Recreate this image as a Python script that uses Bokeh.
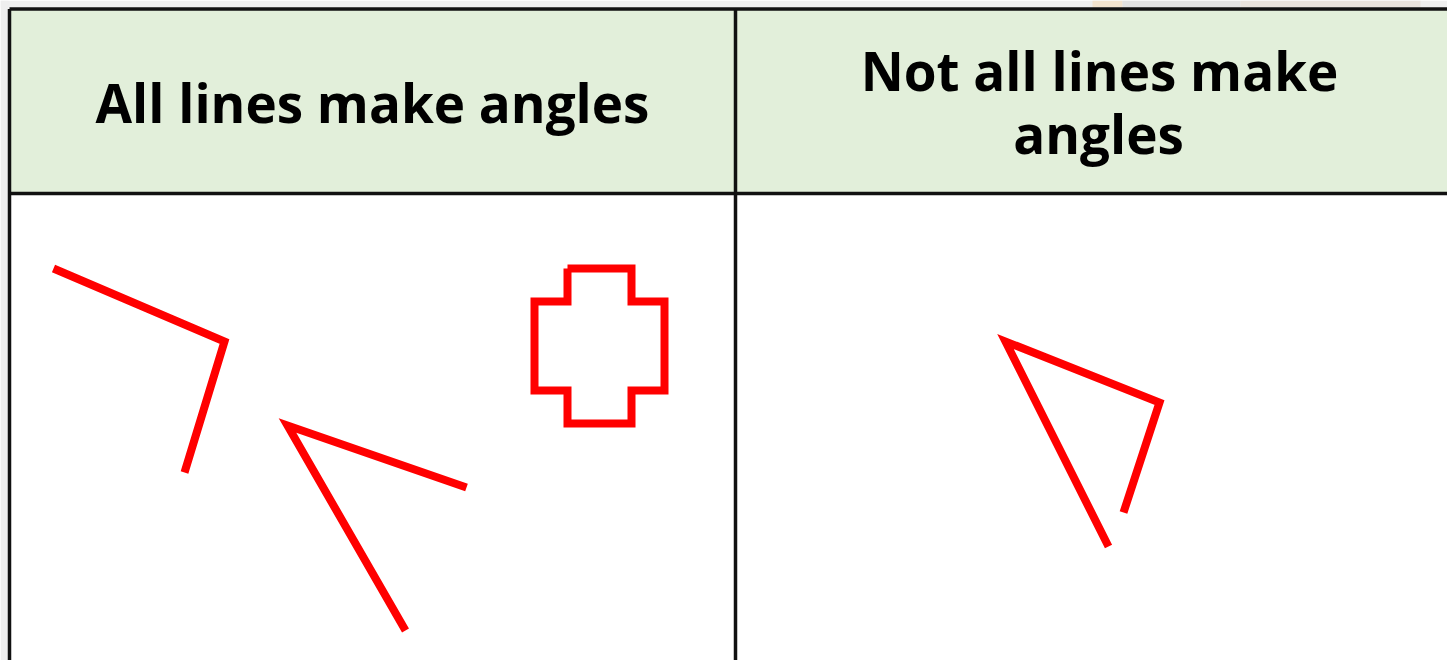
from bokeh.plotting import figure
from bokeh.models import Range1d
from bokeh.core.properties import value
from bokeh.embed import file_html
from bokeh.resources import INLINE

# ---- data (pixel coordinates) ----
headers = ["All lines make angles", "Not all lines make", "angles"]
header_x = [372, 1099, 1098]
header_y = [102, 70, 133]

# open figure 1: two lines meeting at a vertex
shape1_x = [53, 224, 184]
shape1_y = [268, 341, 472]
# open figure 2
shape2_x = [466, 287, 405]
shape2_y = [487, 425, 630]
# closed cross
cross_x = [567, 631, 631, 664, 664, 631, 631, 567, 567, 534, 534, 567, 567]
cross_y = [268, 268, 301, 301, 390, 390, 423, 423, 390, 390, 301, 301, 268]
# right column figure
shape3_x = [1108, 1005, 1159, 1123]
shape3_y = [546, 341, 402, 512]

# table grid
table_left, table_right = 9, 1470
table_top, header_bottom, table_bottom = 8.5, 193, 700
col_split = 735

# background strips (photo behind the table)
strip_left = [0, 0, 1092, 1122, 1240]
strip_right = [1470, 8, 1122, 1240, 1420]
strip_top = [0, 0, 0, 0, 0]
strip_bottom = [7, 700, 7, 7, 7]
strip_colors = ["#efefef", "#eeeeee", "#f3e4cf", "#e2e2e2", "#e9e3dd"]

W, H = 1447, 660
p = figure(width=W, height=H, output_backend="svg", toolbar_location=None,
           x_range=Range1d(0, W), y_range=Range1d(H, 0),
           min_border=0, outline_line_color=None,
           background_fill_color="white", border_fill_color="white")
p.axis.visible = False
p.grid.visible = False

p.quad(left=strip_left, right=strip_right, top=strip_top, bottom=strip_bottom,
       fill_color=strip_colors, line_color=None)

# header fill
p.quad(left=[table_left], right=[table_right], top=[table_top], bottom=[header_bottom],
       fill_color="#E2EFDA", line_color=None)

# borders
grid_color = "#111111"
p.segment(x0=[table_left, table_left, table_left, col_split],
          y0=[table_top, header_bottom, table_top, table_top],
          x1=[table_right, table_right, table_left, col_split],
          y1=[table_top, header_bottom, table_bottom, table_bottom],
          line_color=grid_color, line_width=3.5)

# header texts
p.text(x=header_x, y=header_y, text=headers, text_font=value("Open Sans"),
       text_font_style="bold", text_font_size="53px", text_color="black",
       text_align="center", text_baseline="alphabetic")

red = "#FF0000"
for xs, ys in [(shape1_x, shape1_y), (shape2_x, shape2_y), (shape3_x, shape3_y)]:
    p.line(xs, ys, line_color=red, line_width=8, line_join="miter", line_cap="butt")
p.line(cross_x, cross_y, line_color=red, line_width=8, line_join="miter")

open("out.html", "w").write(file_html(p, INLINE))
